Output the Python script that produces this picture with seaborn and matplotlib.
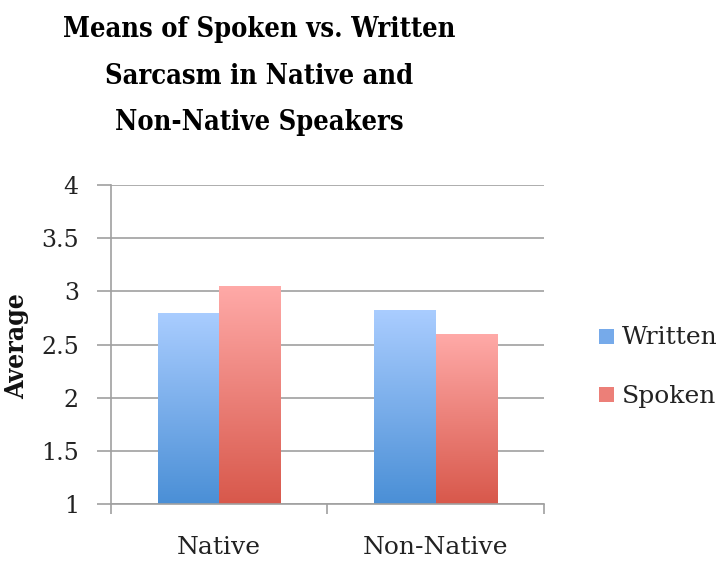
import numpy as np
import pandas as pd
import matplotlib
matplotlib.use("Agg")
import matplotlib.pyplot as plt
import seaborn as sns
from matplotlib.colors import LinearSegmentedColormap
from matplotlib.patches import Rectangle

groups = ["Native", "Non-Native"]
series = ["Written", "Spoken"]
written = [2.80, 2.83]
spoken = [3.05, 2.60]
yticks = [1, 1.5, 2, 2.5, 3, 3.5, 4]
ytick_labels = ["1", "1.5", "2", "2.5", "3", "3.5", "4"]

df = pd.DataFrame({
    "group": groups * 2,
    "series": ["Written"] * 2 + ["Spoken"] * 2,
    "value": written + spoken,
})

top_colors = {"Written": "#aacdff", "Spoken": "#ffaaa8"}
bot_colors = {"Written": "#4a8fd6", "Spoken": "#d8584b"}
mid_colors = {"Written": "#76aaea", "Spoken": "#ec7f78"}

sns.set_style("white")
plt.rcParams["font.family"] = ["DejaVu Serif", "DejaVu Sans"]

fig = plt.figure(figsize=(7.24, 5.62), dpi=100)
ax = fig.add_axes([110.7 / 724, 1 - 504.3 / 562, (544 - 110.7) / 724, (504.3 - 185) / 562])

sns.barplot(data=df, x="group", y="value", hue="series", order=groups,
            hue_order=series, palette=bot_colors, width=0.565, ax=ax,
            legend=False, saturation=1, edgecolor="none")

ax.set_ylim(1, 4)
ax.set_xlim(-0.5, 1.5)

# gradient fills clipped to each bar
for i, patch in enumerate(ax.patches):
    s = series[i // len(groups)]
    cmap = LinearSegmentedColormap.from_list(s, [bot_colors[s], top_colors[s]])
    x0, y0 = patch.get_x(), patch.get_y()
    w, h = patch.get_width(), patch.get_height()
    grad = np.linspace(0, 1, 256).reshape(-1, 1)
    im = ax.imshow(grad, cmap=cmap, origin="lower", aspect="auto",
                   extent=[x0, x0 + w, 1, y0 + h], zorder=patch.get_zorder())
    im.set_clip_path(patch)
    patch.set_facecolor("none")

ax.set_xlim(-0.5, 1.5)
ax.set_ylim(1, 4)

ax.set_yticks(yticks)
ax.set_yticklabels(ytick_labels, fontsize=17, color="#222222")
ax.yaxis.grid(True, color="#a0a0a0", linewidth=1.2)
ax.set_axisbelow(True)
ax.tick_params(axis="y", length=10, width=1.2, color="#a0a0a0", pad=13, left=True)

ax.set_xticks([-0.5, 0.5, 1.5], minor=False)
ax.set_xticklabels(["", "", ""])
ax.set_xticks([0, 1], minor=True)
ax.set_xticklabels(groups, minor=True, fontsize=18, color="#222222")
ax.tick_params(axis="x", which="major", length=7, width=1.2, color="#a0a0a0", bottom=True)
ax.tick_params(axis="x", which="minor", length=0, pad=23)

for side in ["top", "right"]:
    ax.spines[side].set_visible(False)
for side in ["left", "bottom"]:
    ax.spines[side].set_color("#a0a0a0")
    ax.spines[side].set_linewidth(1.2)

ax.set_xlabel("")
ax.set_ylabel("")
fig.text(17 / 724, 1 - 346 / 562, "Average", rotation=90, fontsize=19,
         fontweight="bold", fontstretch="condensed", ha="center", va="center",
         color="#111111")

title = "Means of Spoken vs. Written\nSarcasm in Native and\nNon-Native Speakers"
fig.text(259 / 724, 1 - 76 / 562, title, fontsize=19.5, fontweight="bold",
         fontstretch="condensed", ha="center", va="center", linespacing=1.93,
         color="#000000")

# legend
for s, yc in zip(series, [336, 394]):
    fig.patches.append(Rectangle((599 / 724, 1 - (yc + 7.5) / 562), 15 / 724, 15 / 562,
                                 transform=fig.transFigure, facecolor=mid_colors[s],
                                 edgecolor="none"))
    fig.text(622 / 724, 1 - (yc + 2) / 562, s, fontsize=18, ha="left", va="center",
             color="#222222")

fig.savefig("out.png", dpi=100)
